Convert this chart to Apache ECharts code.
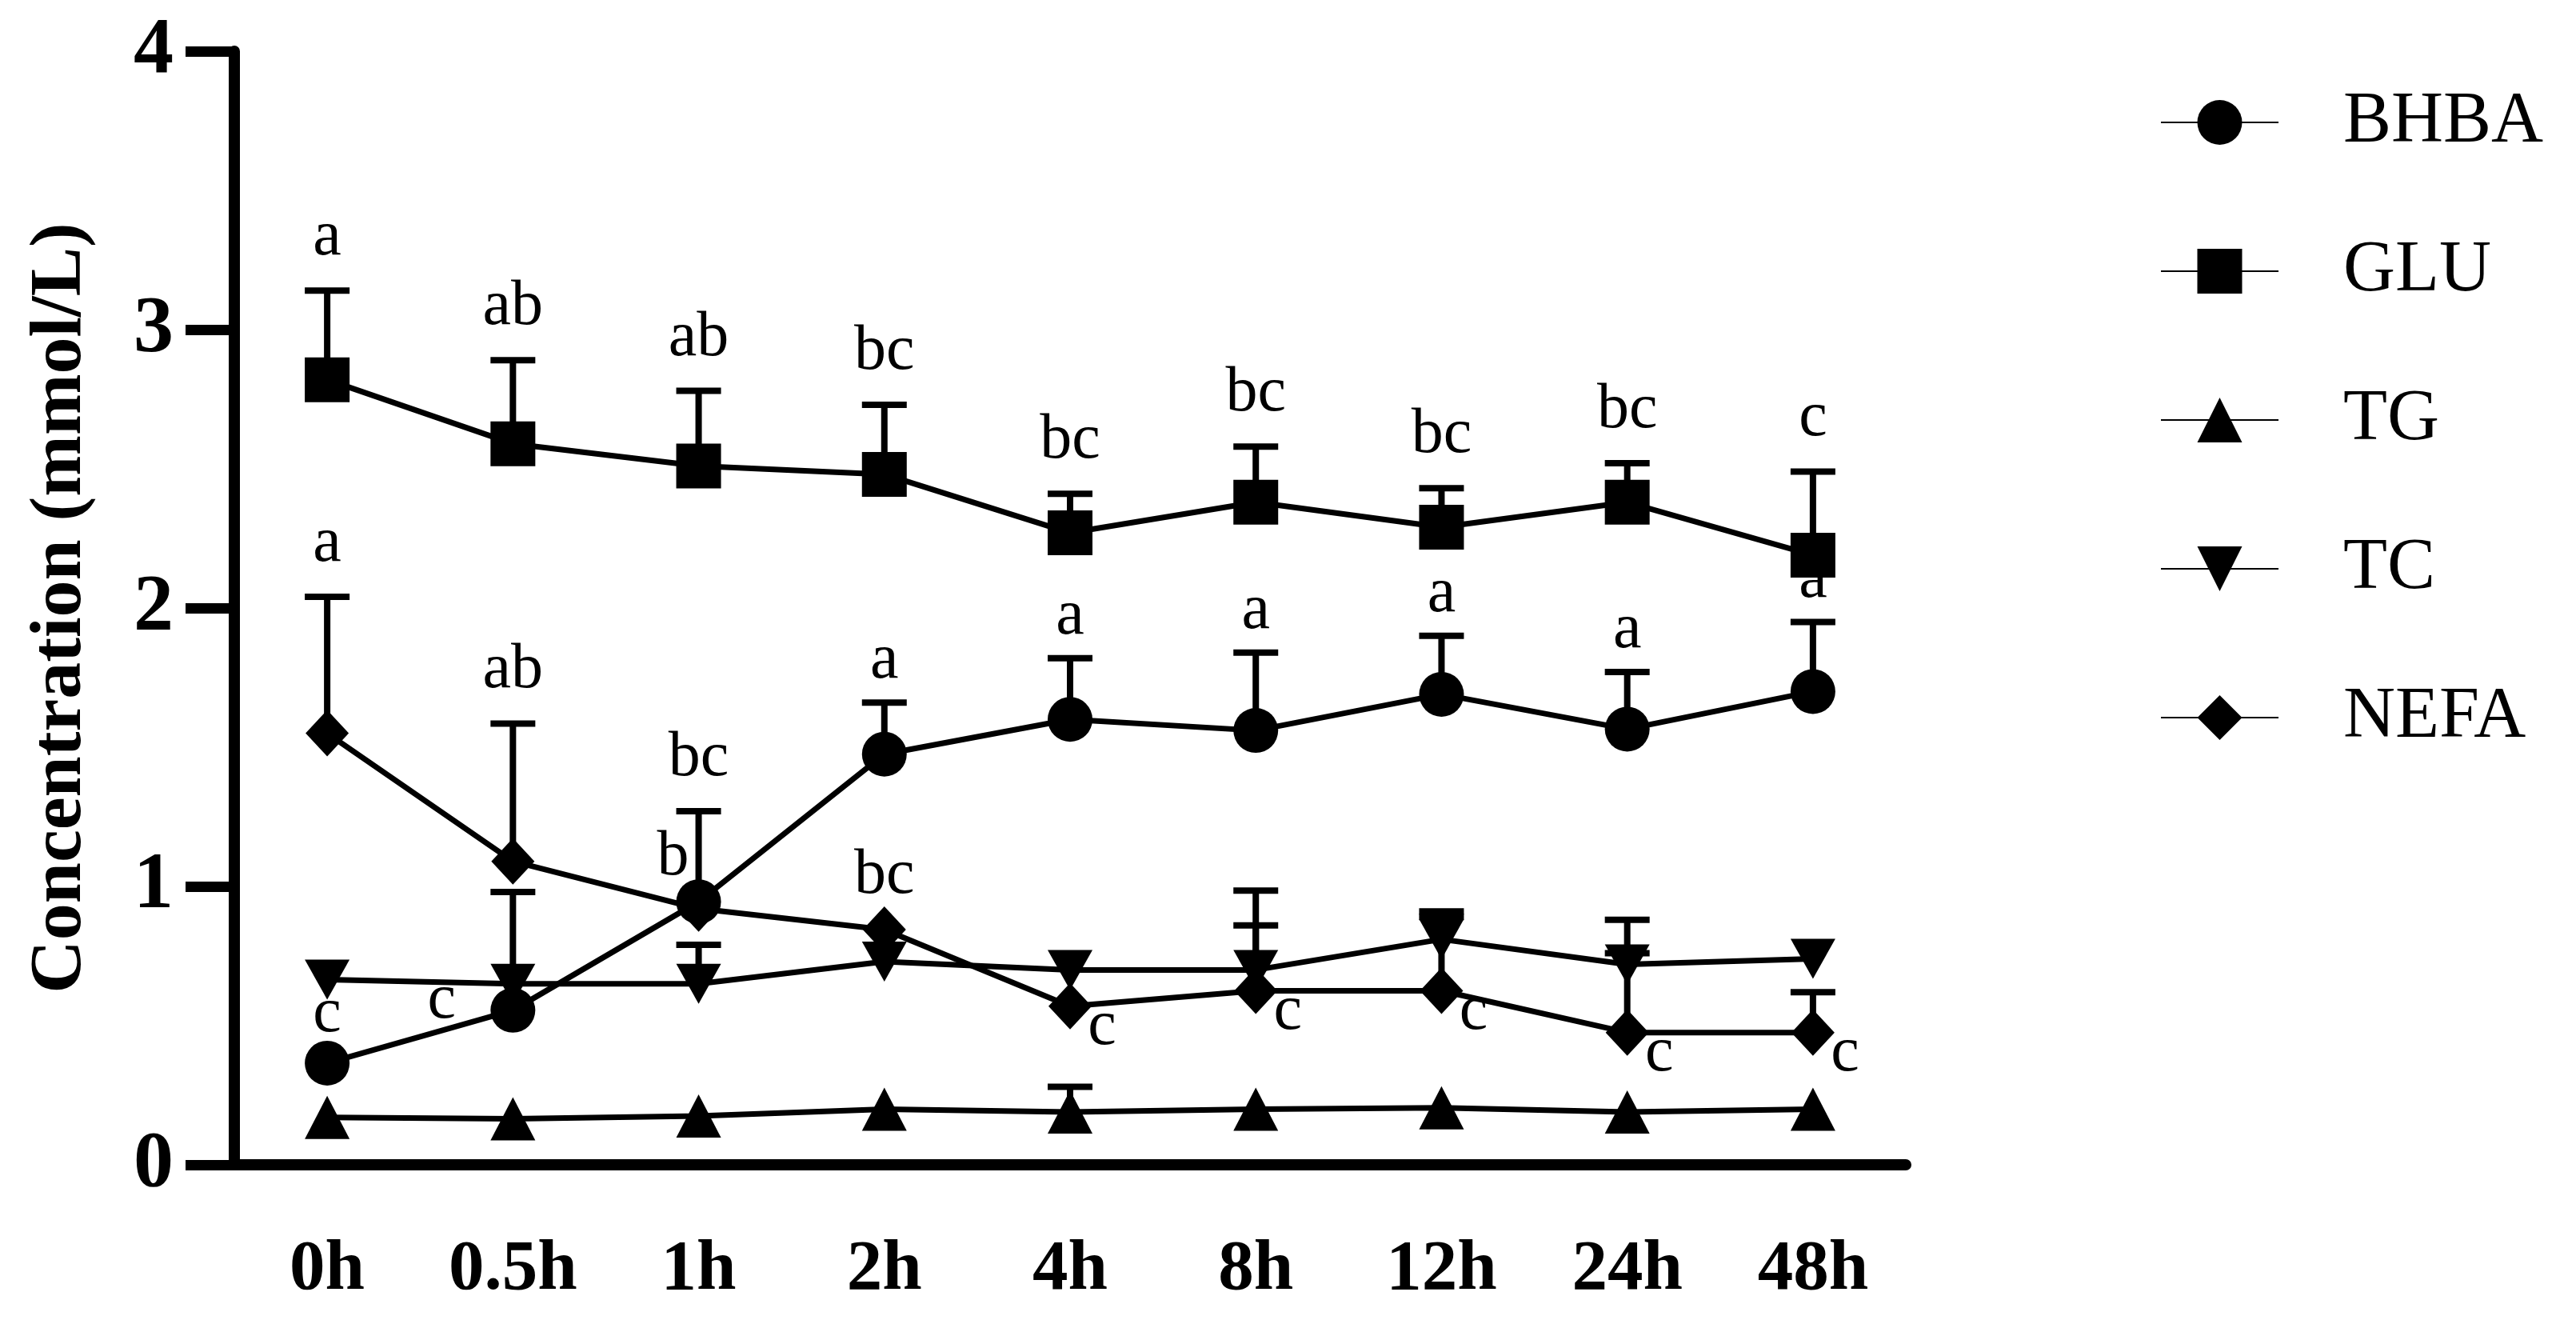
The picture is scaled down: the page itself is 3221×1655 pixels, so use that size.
<!DOCTYPE html>
<html>
<head>
<meta charset="utf-8">
<script src="https://cdn.jsdelivr.net/npm/echarts@6/dist/echarts.min.js"></script>
<style>
html, body { margin: 0; padding: 0; background: #fff; }
#chart { width: 3221px; height: 1655px; }
</style>
</head>
<body>
<div id="chart"></div>
<script>
var hours = ['0h', '0.5h', '1h', '2h', '4h', '8h', '12h', '24h', '48h'];

// means
var bhba = [0.365, 0.555, 0.945, 1.475, 1.60, 1.56, 1.69, 1.565, 1.70];
var glu  = [2.82, 2.59, 2.51, 2.48, 2.27, 2.38, 2.29, 2.38, 2.19];
var tg   = [0.17, 0.165, 0.175, 0.20, 0.19, 0.20, 0.205, 0.19, 0.20];
var tc   = [0.665, 0.65, 0.65, 0.73, 0.70, 0.70, 0.81, 0.72, 0.74];
var nefa = [1.55, 1.09, 0.92, 0.845, 0.57, 0.625, 0.625, 0.475, 0.475];

// upper end of the error bars (null = no bar drawn)
var bhbaTop = [null, null, null, 1.66, 1.82, 1.84, 1.90, 1.77, 1.95];
var gluTop  = [3.14, 2.89, 2.78, 2.73, 2.41, 2.58, 2.43, 2.52, 2.49];
var tgTop   = [null, null, null, null, 0.28, null, null, null, null];
var tcTop   = [null, 0.98, 0.79, null, null, 0.985, 0.91, 0.88, null];
var nefaTop = [2.04, 1.585, 1.27, null, null, 0.86, 0.89, 0.76, 0.62];

// significance letters
var bhbaLetters = ['c', 'c', 'b', 'a', 'a', 'a', 'a', 'a', 'a'];
var gluLetters  = ['a', 'ab', 'ab', 'bc', 'bc', 'bc', 'bc', 'bc', 'c'];
var nefaLetters = ['a', 'ab', 'bc', 'bc', 'c', 'c', 'c', 'c', 'c'];

// where each letter sits
var bhbaSpots = ['pt', 'left', 'leftUp', 'capB', 'capB', 'capB', 'capB', 'capB', 'capB'];
var gluSpots  = ['cap', 'cap', 'cap', 'cap', 'cap', 'cap', 'cap', 'cap', 'cap'];
var nefaSpots = ['cap', 'cap', 'cap', 'pt2', 'br', 'br', 'br', 'br', 'br'];
var spotOffset = {
    cap: [0, -66], capB: [0, -52], pt: [0, -61], pt2: [0, -67],
    left: [-89, -12], leftUp: [-32, -55], br: [40, 26]
};

var serif = '"Liberation Serif", "Times New Roman", serif';

var letterSets = [
    { mean: bhba, top: bhbaTop, letters: bhbaLetters, spots: bhbaSpots },
    { mean: glu, top: gluTop, letters: gluLetters, spots: gluSpots },
    { mean: nefa, top: nefaTop, letters: nefaLetters, spots: nefaSpots }
];

function barData(mean, top) {
    var out = [];
    for (var i = 0; i < mean.length; i++) {
        if (top[i] != null) out.push([i, mean[i], top[i]]);
    }
    return out;
}

function letterData() {
    var out = [];
    for (var k = 0; k < letterSets.length; k++) {
        var s = letterSets[k];
        for (var i = 0; i < s.letters.length; i++) {
            var onCap = s.spots[i] == 'cap' || s.spots[i] == 'capB';
            out.push([i, onCap ? s.top[i] : s.mean[i], k]);
        }
    }
    return out;
}

function renderBar(params, api) {
    var lo = api.coord([api.value(0), api.value(1)]);
    var hi = api.coord([api.value(0), api.value(2)]);
    var w = 28;
    var st = { stroke: '#000', lineWidth: 8 };
    return {
        type: 'group',
        children: [
            { type: 'line', shape: { x1: lo[0], y1: lo[1], x2: hi[0], y2: hi[1] }, style: st },
            { type: 'line', shape: { x1: hi[0] - w, y1: hi[1], x2: hi[0] + w, y2: hi[1] }, style: st }
        ]
    };
}

function renderLetter(params, api) {
    var i = api.value(0);
    var s = letterSets[api.value(2)];
    var p = api.coord([i, api.value(1)]);
    var off = spotOffset[s.spots[i]];
    return {
        type: 'text',
        x: p[0] + off[0],
        y: p[1] + off[1],
        style: {
            text: s.letters[i],
            fill: '#000',
            fontSize: 80,
            fontFamily: serif,
            align: 'center',
            verticalAlign: 'middle'
        }
    };
}

function lineSeries(name, data, symbol, size) {
    return {
        name: name,
        type: 'line',
        data: data,
        symbol: symbol,
        symbolSize: size,
        z: 3,
        itemStyle: { color: '#000' },
        lineStyle: { color: '#000', width: 7 },
        emphasis: { disabled: true }
    };
}

function errSeries(mean, top) {
    return {
        type: 'custom',
        data: barData(mean, top),
        encode: { x: 0, y: 1 },
        renderItem: renderBar,
        silent: true,
        z: 2
    };
}

var downTri = 'path://M0,0 L10,0 L5,9 Z';

var myChart = echarts.init(document.getElementById('chart'));
option = {
    backgroundColor: '#fff',
    animation: false,
    grid: {
        left: 293,
        right: 838,
        top: 64,
        bottom: 199
    },
    legend: {
        data: ['BHBA', 'GLU', 'TG', 'TC', 'NEFA'],
        orient: 'vertical',
        left: 2696,
        top: 103,
        itemWidth: 147,
        itemHeight: 70,
        itemGap: 96,
        selectedMode: false,
        textStyle: {
            fontFamily: serif,
            fontSize: 90,
            lineHeight: 90,
            color: '#000',
            padding: [0, 0, 0, 76]
        }
    },
    xAxis: {
        type: 'category',
        data: hours,
        boundaryGap: true,
        axisLine: { lineStyle: { color: '#000', width: 14 } },
        axisTick: { alignWithLabel: true, length: 58, lineStyle: { color: '#000', width: 13 } },
        axisLabel: {
            margin: 88,
            color: '#000',
            fontFamily: serif,
            fontWeight: 'bold',
            fontSize: 89
        }
    },
    yAxis: {
        type: 'value',
        min: 0,
        max: 4,
        interval: 1,
        name: 'Concentration (mmol/L)',
        nameLocation: 'middle',
        nameGap: 171,
        nameTextStyle: {
            color: '#000',
            fontFamily: serif,
            fontWeight: 'bold',
            fontSize: 92
        },
        splitLine: { show: false },
        axisLine: { show: true, lineStyle: { color: '#000', width: 14 } },
        axisTick: { show: true, length: 61, lineStyle: { color: '#000', width: 13 } },
        axisLabel: {
            margin: 76,
            color: '#000',
            fontFamily: serif,
            fontWeight: 'bold',
            fontSize: 100
        }
    },
    series: [
        errSeries(bhba, bhbaTop),
        errSeries(glu, gluTop),
        errSeries(tg, tgTop),
        errSeries(tc, tcTop),
        errSeries(nefa, nefaTop),
        lineSeries('BHBA', bhba, 'circle', 56),
        lineSeries('GLU', glu, 'rect', 56),
        lineSeries('TG', tg, 'triangle', [56, 54]),
        lineSeries('TC', tc, downTri, [56, 50]),
        lineSeries('NEFA', nefa, 'diamond', [54, 58]),
        {
            type: 'custom',
            data: letterData(),
            encode: { x: 0, y: 1 },
            renderItem: renderLetter,
            silent: true,
            z: 4
        }
    ]
};
myChart.setOption(option);
</script>
</body>
</html>
